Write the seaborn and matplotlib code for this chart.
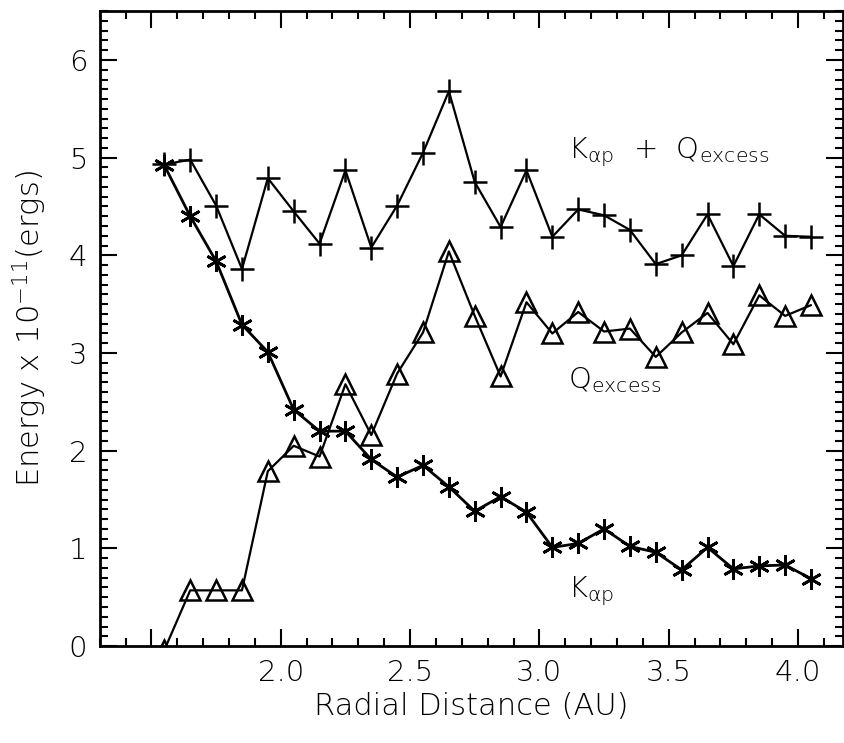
import numpy as np
import pandas as pd
import matplotlib
matplotlib.use("Agg")
import matplotlib.pyplot as plt
from matplotlib.ticker import MultipleLocator, FixedLocator, FixedFormatter
import seaborn as sns

# ---- data ----
radial_distance = [1.55, 1.65, 1.75, 1.85, 1.95, 2.05, 2.15, 2.25, 2.35, 2.45,
                   2.55, 2.65, 2.75, 2.85, 2.95, 3.05, 3.15, 3.25, 3.35, 3.45,
                   3.55, 3.65, 3.75, 3.85, 3.95, 4.05]
k_alpha_p = [4.92, 4.40, 3.94, 3.29, 3.01, 2.42, 2.20, 2.20, 1.91, 1.73,
             1.85, 1.63, 1.38, 1.53, 1.37, 1.01, 1.05, 1.20, 1.02, 0.96,
             0.78, 1.01, 0.79, 0.82, 0.83, 0.69]
q_excess = [-0.04, 0.57, 0.57, 0.57, 1.79, 2.05, 1.94, 2.68, 2.16, 2.79,
            3.21, 4.04, 3.38, 2.76, 3.52, 3.20, 3.42, 3.22, 3.25, 2.96,
            3.21, 3.41, 3.09, 3.59, 3.38, 3.49]
k_plus_q = [4.93, 4.98, 4.51, 3.86, 4.79, 4.45, 4.12, 4.87, 4.08, 4.51,
            5.05, 5.68, 4.75, 4.29, 4.87, 4.19, 4.47, 4.41, 4.26, 3.91,
            4.00, 4.42, 3.89, 4.42, 4.20, 4.19]
x_major_ticks = [1.5, 2.0, 2.5, 3.0, 3.5, 4.0]
x_tick_labels = ["", "2.0", "2.5", "3.0", "3.5", "4.0"]
y_ticks = [0, 1, 2, 3, 4, 5, 6]

sns.set_style("ticks")
plt.rcParams['font.family'] = ['DejaVu Sans']
plt.rcParams['font.weight'] = 'light'
plt.rcParams['axes.labelweight'] = 'light'
plt.rcParams['mathtext.default'] = 'regular'
plt.rcParams['text.color'] = 'black'
plt.rcParams['axes.labelcolor'] = 'black'
plt.rcParams['xtick.color'] = 'black'
plt.rcParams['ytick.color'] = 'black'

fig = plt.figure(figsize=(8.45, 7.43), dpi=100)
ax = fig.add_axes([0.118, 0.1305, 0.880, 0.8545])

lw = 1.6
sns.lineplot(x=radial_distance, y=k_plus_q, ax=ax, color='black', lw=lw,
             marker='+', markersize=17, markeredgewidth=1.8,
             markeredgecolor='black', zorder=3)
sns.lineplot(x=radial_distance, y=q_excess, ax=ax, color='black', lw=lw,
             marker='^', markersize=14, markeredgewidth=1.8,
             markerfacecolor='none', markeredgecolor='black', zorder=3)
sns.lineplot(x=radial_distance, y=k_alpha_p, ax=ax, color='black', lw=2.0,
             marker=(6, 2, 0), markersize=15, markeredgewidth=2.0,
             markeredgecolor='black', zorder=4)

ax.set_xlim(1.30, 4.175)
ax.set_ylim(0, 6.5)

ax.xaxis.set_major_locator(FixedLocator(x_major_ticks))
ax.xaxis.set_major_formatter(FixedFormatter(x_tick_labels))
ax.xaxis.set_minor_locator(MultipleLocator(0.1))
ax.yaxis.set_major_locator(FixedLocator(y_ticks))
ax.yaxis.set_minor_locator(MultipleLocator(0.1))

ax.tick_params(which='both', direction='in', top=True, right=True,
               colors='black', width=1.5)
ax.tick_params(which='major', length=12, labelsize=21, pad=9)
ax.tick_params(which='minor', length=6)
for s in ax.spines.values():
    s.set_linewidth(2.0)
    s.set_color('black')

ax.set_xlabel("Radial Distance (AU)", fontsize=22, fontweight='light', labelpad=4)
ax.set_ylabel("Energy x 10$^{-11}$(ergs)", fontsize=22, fontweight='light', labelpad=14)

ax.text(3.11, 4.99, r"K$_{\alpha p}$  +  Q$_{excess}$", fontsize=21,
        fontweight='light', ha='left', va='baseline')
ax.text(3.11, 2.64, r"Q$_{excess}$", fontsize=21, fontweight='light',
        ha='left', va='baseline')
ax.text(3.11, 0.50, r"K$_{\alpha p}$", fontsize=21, fontweight='light',
        ha='left', va='baseline')

fig.savefig("out.png", dpi=100)
